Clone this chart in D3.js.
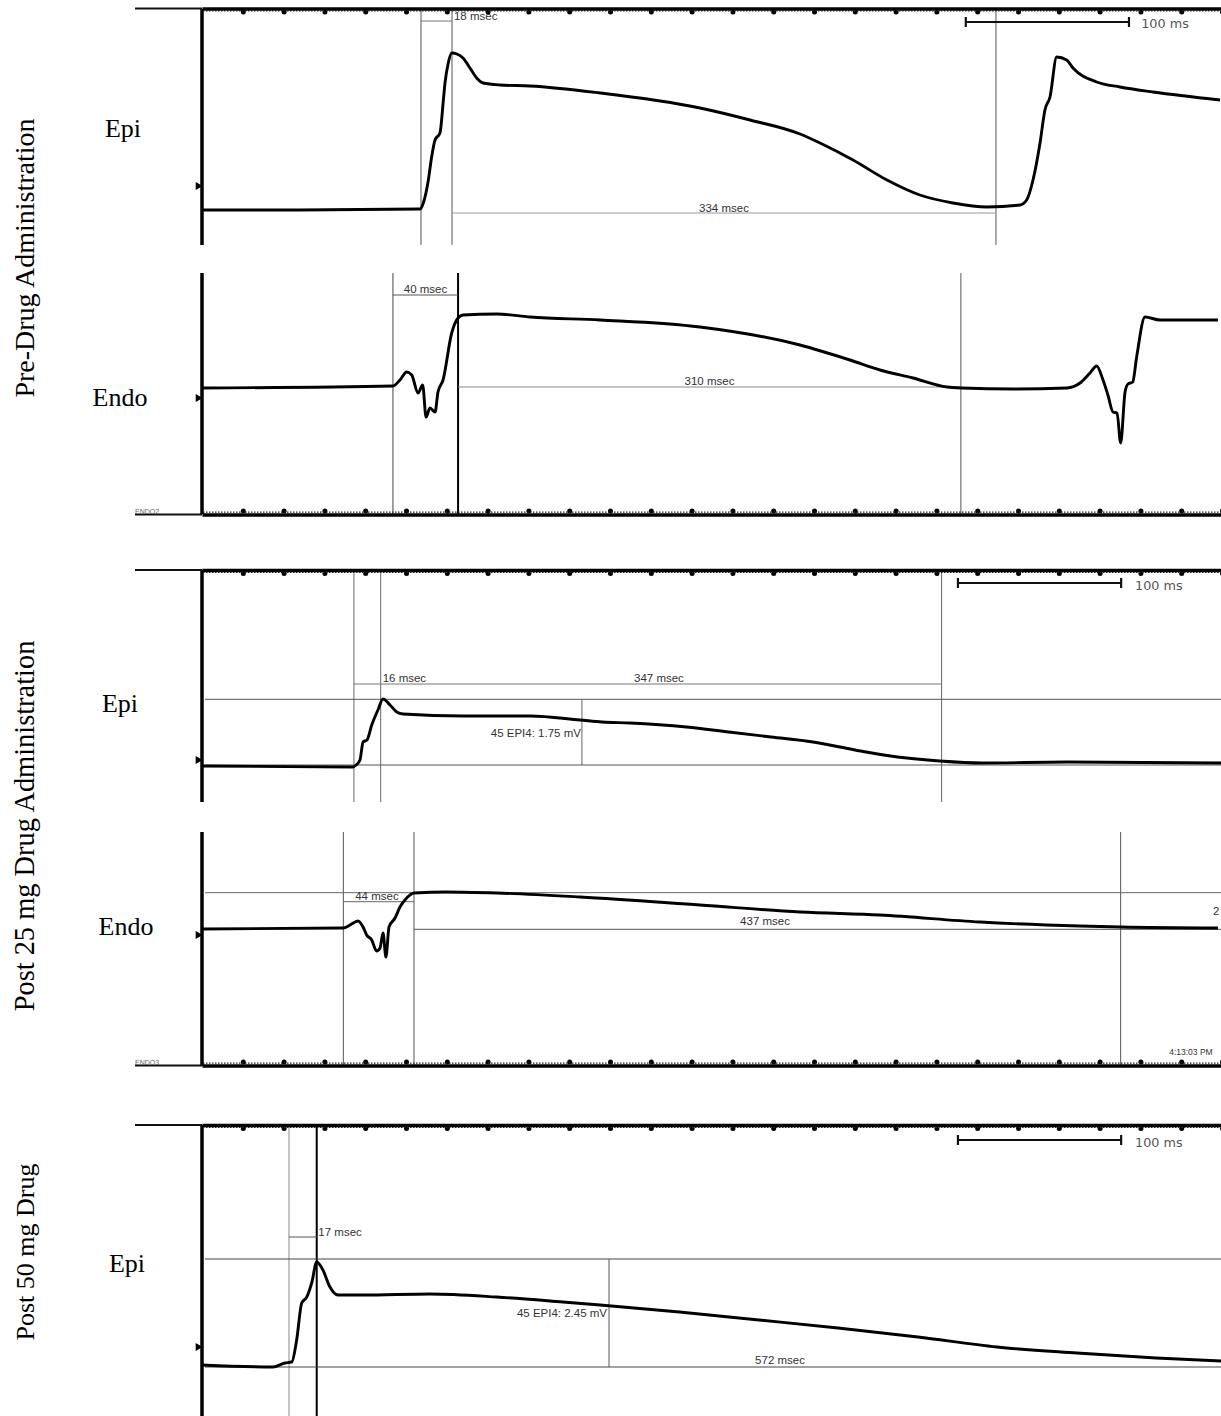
<!DOCTYPE html>
<html>
<head>
<meta charset="utf-8">
<script src="https://cdn.jsdelivr.net/npm/d3@7"></script>
<style>
  html, body { margin: 0; padding: 0; background: #fff; }
  svg { display: block; }
</style>
</head>
<body>
<svg id="chart" width="1221" height="1416"></svg>
<script>
// ---------------- DATA (time in ms, amplitude in arbitrary units) ----------------
const timeTicks = [25,50,75,100,125,150,175,200,225,250,275,300,325,350,375,400,425,450,475,500,525,550,575,600,625];

const groupLabels = ["Pre-Drug Administration", "Post 25 mg Drug Administration", "Post 50 mg Drug"];
const traceLabels = ["Epi", "Endo", "Epi", "Endo", "Epi"];

// Pre-drug Epi
const epiPre = [[0,3.5],[60,3.5],[133.6,3.6],[135.6,4.2],[138.7,6.5],[140.7,8.8],[142.8,10.5],[145.8,11.2],[147.9,14.5],[148.9,16.2],[150.9,18.2],[153,19.2],[156.2,19.1],[159.9,18.7],[164.2,17.7],[168.3,16.7],[172.2,16.2],[182.6,16.0],[201,15.9],[243.9,15.2],[305.1,13.7],[335.8,12.5],[366.4,11.1],[378.7,10.2],[398.9,8.5],[419.7,6.5],[439.9,5.0],[460.2,4.2],[481,3.8],[501.2,4.0],[505.3,4.5],[509.2,6.5],[513.5,10.2],[516.5,13.5],[519.6,14.8],[523.7,18.8],[529.8,18.5],[533.7,17.7],[548.2,16.3],[562.5,15.8],[582.7,15.3],[623.8,14.5]];
// Pre-drug Endo
const endoPre = [[0,12.5],[117,12.7],[121.3,13.3],[125.4,14.1],[128.5,13.8],[132.4,12.0],[135.2,12.8],[137.3,9.6],[139.7,10.5],[142.8,10.1],[144.6,12.1],[147.7,13.3],[153,18.0],[156.9,19.5],[159.9,19.8],[180.6,19.9],[201,19.6],[243.9,19.3],[305.1,18.6],[366.4,16.8],[397,15.3],[415.4,14.3],[435.7,13.5],[456.5,12.6],[465.7,12.5],[496.9,12.4],[530,12.5],[538,13.0],[544.1,14.0],[548.2,14.7],[552.1,13.3],[555.1,11.8],[558.2,10.1],[560.7,10.0],[562.9,7.0],[565.6,12.1],[567.4,12.9],[570.3,13.1],[572.7,15.6],[577.8,19.6],[587,19.3],[622.5,19.3]];
// Post 25 mg Epi
const epi25 = [[0,3.6],[92.5,3.5],[94.4,3.7],[96.8,4.2],[98.7,6.0],[101.1,6.2],[104,7.7],[107.8,9.2],[110.9,10.3],[115.2,9.7],[119.3,9.0],[123.2,8.8],[159.9,8.6],[201,8.6],[231.6,8.2],[245.1,8.0],[262.3,7.9],[296.9,7.5],[322.8,7.0],[348.7,6.5],[374.4,6.0],[400.1,5.2],[426.2,4.5],[452,4.1],[477.9,3.9],[529.4,4.0],[624.4,3.9]];
// Post 25 mg Endo
const endo25 = [[0,13.7],[86.6,13.8],[90.7,14.1],[95.6,14.5],[98.7,13.9],[100.9,13.1],[104,12.6],[107,11.5],[109.1,11.8],[110.9,13.3],[112.7,10.9],[114.6,13.9],[118.3,14.8],[121.3,15.9],[125.4,16.8],[129.9,17.3],[149.9,17.4],[180.6,17.3],[231.6,16.9],[305.1,16.1],[366.4,15.4],[415.4,15.1],[476.7,14.4],[538,14.0],[562.9,13.9],[622.5,13.8]];
// Post 50 mg Epi
const epi50 = [[0,5.1],[43.5,4.9],[50.8,5.3],[55,5.4],[58,7.6],[61.1,11.3],[64.2,11.9],[67.2,13.3],[70.3,15.4],[74.1,14.6],[78.4,12.9],[83.3,12.1],[98.7,12.1],[139.7,12.2],[180.6,11.9],[221.2,11.4],[243.9,11.1],[292.6,10.4],[341.3,9.6],[389.7,8.8],[438.7,7.9],[487.1,6.9],[536.1,6.3],[584.6,5.8],[624.4,5.5]];

// Cursor times (ms) per panel
const cursorsPre1 = [134.2, 153.2, 486.5];
const cursorsPre2 = [117, 156.9, 465];
const cursors25a = [93.1, 109.5, 453.2];
const cursors25b = [86.6, 129.9, 562.9];
const cursors50 = [53.3, 70.3];

// Measurement labels
const durLabelsPre1 = ["18 msec", "334 msec"];
const durLabelsPre2 = ["40 msec", "310 msec"];
const durLabels25a = ["16 msec", "347 msec", "45 EPI4: 1.75 mV"];
const durLabels25b = ["44 msec", "437 msec"];
const durLabels50 = ["17 msec", "45 EPI4: 2.45 mV", "572 msec"];
const scaleBarMs = [100, 100, 100];

// ---------------- LAYOUT ----------------
const svg = d3.select("#chart");
const x = d3.scaleLinear().domain([0, 625]).range([202, 1222]);
const axisLeftX = 135;

const panels = [
  { top: 9,    bottom: 245,  yBase: 245,  axisY: 8.5,   side: "top",    tri: 186,  lx: 123, ly: 137 },
  { top: 273,  bottom: 514,  yBase: 513,  axisY: 514.5, side: "bottom", tri: 398,  lx: 120, ly: 406, tag: "ENDO2" },
  { top: 570,  bottom: 802,  yBase: 802,  axisY: 570,   side: "top",    tri: 760,  lx: 120, ly: 712 },
  { top: 832,  bottom: 1066, yBase: 1066, axisY: 1065.5,side: "bottom", tri: 935,  lx: 126, ly: 935, tag: "ENDO3" },
  { top: 1125, bottom: 1416, yBase: 1416, axisY: 1125,  side: "top",    tri: 1347, lx: 127, ly: 1272 }
];
panels.forEach(p => {
  p.y = d3.scaleLinear().domain([0, (p.yBase - p.top) / 10]).range([p.yBase, p.top]);
  p.g = svg.append("g");
});

const annoFont = "'Liberation Sans', Arial, sans-serif";
const barFont = "'DejaVu Sans', sans-serif";

function vline(p, t, v0, v1, w, c) {
  p.g.append("line")
    .attr("x1", x(t)).attr("x2", x(t))
    .attr("y1", v0 === null ? p.top : p.y(v0))
    .attr("y2", v1 === null ? p.bottom : p.y(v1))
    .attr("stroke", c).attr("stroke-width", w);
}
function hline(p, t0, t1, v, w, c) {
  p.g.append("line")
    .attr("x1", t0 === null ? 205 : x(t0)).attr("x2", t1 === null ? 1221 : x(t1))
    .attr("y1", p.y(v)).attr("y2", p.y(v))
    .attr("stroke", c).attr("stroke-width", w);
}
function label(p, t, v, txt, anchor, size, fam, col) {
  p.g.append("text")
    .attr("x", x(t)).attr("y", p.y(v))
    .attr("text-anchor", anchor)
    .attr("font-family", fam || annoFont)
    .attr("font-size", size || 11.5)
    .attr("fill", col || "#333")
    .text(txt);
}
function scaleBar(p, t0, ms, v, tl, vl) {
  const g = p.g.append("g").attr("stroke", "#111").attr("stroke-width", 2.2);
  g.append("line").attr("x1", x(t0)).attr("x2", x(t0 + ms)).attr("y1", p.y(v)).attr("y2", p.y(v));
  [t0, t0 + ms].forEach(t => g.append("line").attr("x1", x(t)).attr("x2", x(t))
      .attr("y1", p.y(v) - 5).attr("y2", p.y(v) + 5));
  label(p, tl, vl, ms + " ms", "start", 12.8, barFont, "#555");
}

// ---------------- ANNOTATIONS ----------------
// Panel 1: Pre Epi
{
  const p = panels[0];
  cursorsPre1.forEach(t => vline(p, t, null, null, 1, "#555"));
  hline(p, cursorsPre1[0], cursorsPre1[1], 22.4, 1, "#777");
  label(p, cursorsPre1[1] + 1.2, 22.5, durLabelsPre1[0], "start");
  hline(p, cursorsPre1[1], cursorsPre1[2], 3.2, 1.2, "#999");
  label(p, (cursorsPre1[1] + cursorsPre1[2]) / 2, 3.35, durLabelsPre1[1], "middle");
  scaleBar(p, 468, scaleBarMs[0], 22.3, 575.5, 21.7);
}
// Panel 2: Pre Endo
{
  const p = panels[1];
  vline(p, cursorsPre2[0], null, null, 1, "#444");
  vline(p, cursorsPre2[1], null, null, 2, "#000");
  vline(p, cursorsPre2[2], null, null, 1, "#555");
  hline(p, cursorsPre2[0], cursorsPre2[1], 21.8, 1, "#555");
  label(p, (cursorsPre2[0] + cursorsPre2[1]) / 2, 22.0, durLabelsPre2[0], "middle");
  hline(p, cursorsPre2[1], cursorsPre2[2], 12.6, 1, "#888");
  label(p, (cursorsPre2[1] + cursorsPre2[2]) / 2, 12.8, durLabelsPre2[1], "middle");
}
// Panel 3: Post 25 Epi
{
  const p = panels[2];
  cursors25a.forEach(t => vline(p, t, null, null, 1, "#666"));
  hline(p, null, null, 10.27, 1, "#555");
  hline(p, null, null, 3.7, 1, "#555");
  vline(p, 232.8, 10.27, 3.7, 1, "#666");
  hline(p, cursors25a[0], cursors25a[2], 11.8, 1, "#777");
  label(p, cursors25a[1] + 1.2, 12.0, durLabels25a[0], "start");
  label(p, 280, 12.0, durLabels25a[1], "middle");
  label(p, 232.2, 6.5, durLabels25a[2], "end");
  scaleBar(p, 463.2, scaleBarMs[1], 21.9, 571.7, 21.2);
}
// Panel 4: Post 25 Endo
{
  const p = panels[3];
  cursors25b.forEach(t => vline(p, t, null, null, 1, "#555"));
  hline(p, null, null, 17.33, 1, "#666");
  hline(p, cursors25b[0], cursors25b[1], 16.43, 1, "#666");
  label(p, 107.2, 16.6, durLabels25b[0], "middle");
  hline(p, cursors25b[1], null, 13.67, 1, "#555");
  label(p, 345, 14.1, durLabels25b[1], "middle");
  label(p, 619.5, 15.1, "2", "start");
  label(p, 619.3, 1.1, "4:13:03 PM", "end", 8.5);
}
// Panel 5: Post 50 Epi
{
  const p = panels[4];
  vline(p, cursors50[0], null, null, 1, "#888");
  vline(p, cursors50[1], null, null, 2, "#000");
  hline(p, null, null, 15.7, 1, "#444");
  hline(p, null, null, 4.9, 1.2, "#444");
  vline(p, 249.4, 15.7, 4.9, 1, "#555");
  hline(p, cursors50[0], cursors50[1], 17.9, 1, "#555");
  label(p, cursors50[1] + 1.0, 18.0, durLabels50[0], "start");
  label(p, 248.2, 9.9, durLabels50[1], "end");
  label(p, 354.2, 5.2, durLabels50[2], "middle");
  scaleBar(p, 463.2, scaleBarMs[2], 27.6, 571.7, 26.9);
}

// ---------------- TRACES ----------------
const traces = [epiPre, endoPre, epi25, endo25, epi50];
traces.forEach((data, i) => {
  const p = panels[i];
  const line = d3.line().x(d => x(d[0])).y(d => p.y(d[1])).curve(d3.curveMonotoneX);
  p.g.append("path").datum(data)
    .attr("d", line)
    .attr("fill", "none").attr("stroke", "#000")
    .attr("stroke-width", 2.9).attr("stroke-linejoin", "round");
});

// ---------------- AXES ----------------
panels.forEach((p, i) => {
  // left vertical axis
  p.g.append("line").attr("x1", 202).attr("x2", 202)
    .attr("y1", p.top).attr("y2", p.bottom)
    .attr("stroke", "#000").attr("stroke-width", 3.5);
  // marker triangle
  p.g.append("path")
    .attr("d", d3.symbol().type(d3.symbolTriangle).size(28)())
    .attr("transform", `translate(198,${p.tri}) rotate(90)`)
    .attr("fill", "#000");
  // thin extension of time axis to the left
  p.g.append("line").attr("x1", axisLeftX).attr("x2", 202)
    .attr("y1", p.axisY).attr("y2", p.axisY)
    .attr("stroke", "#111").attr("stroke-width", 1.8);
  // time axis
  const ax = (p.side === "top" ? d3.axisTop(x) : d3.axisBottom(x))
    .tickValues(timeTicks).tickSize(0).tickSizeOuter(0).tickFormat("");
  const ag = p.g.append("g").attr("transform", `translate(0,${p.axisY})`).call(ax);
  ag.select(".domain").attr("stroke", "#000").attr("stroke-width", 3.4);
  const dir = p.side === "top" ? 1 : -1;
  // fine dotted inner edge
  p.g.append("line").attr("x1", 203).attr("x2", 1221)
    .attr("y1", p.axisY + dir * 2.3).attr("y2", p.axisY + dir * 2.3)
    .attr("stroke", "#222").attr("stroke-width", 1.2).attr("stroke-dasharray", "1.5,1.5");
  ag.selectAll(".tick").append("circle")
    .attr("cy", dir * 3.6).attr("r", 2.5).attr("fill", "#000");
  if (p.tag) {
    p.g.append("text").attr("x", 135).attr("y", p.axisY - 1)
      .attr("font-family", annoFont).attr("font-size", 7).attr("fill", "#666")
      .text(p.tag);
  }
  // trace label
  p.g.append("text")
    .attr("x", p.lx).attr("y", p.ly)
    .attr("text-anchor", "middle")
    .attr("font-family", "'Liberation Serif', 'Times New Roman', serif")
    .attr("font-size", 26).attr("fill", "#000")
    .text(traceLabels[i]);
});

// ---------------- GROUP LABELS ----------------
const groupCenters = [258, 826, 1252];
const groupSizes = [28, 28.4, 26];
groupLabels.forEach((txt, i) => {
  svg.append("text")
    .attr("transform", `translate(34,${groupCenters[i]}) rotate(-90)`)
    .attr("text-anchor", "middle")
    .attr("font-family", "'Liberation Serif', 'Times New Roman', serif")
    .attr("font-size", groupSizes[i]).attr("fill", "#000")
    .text(txt);
});
</script>
</body>
</html>
